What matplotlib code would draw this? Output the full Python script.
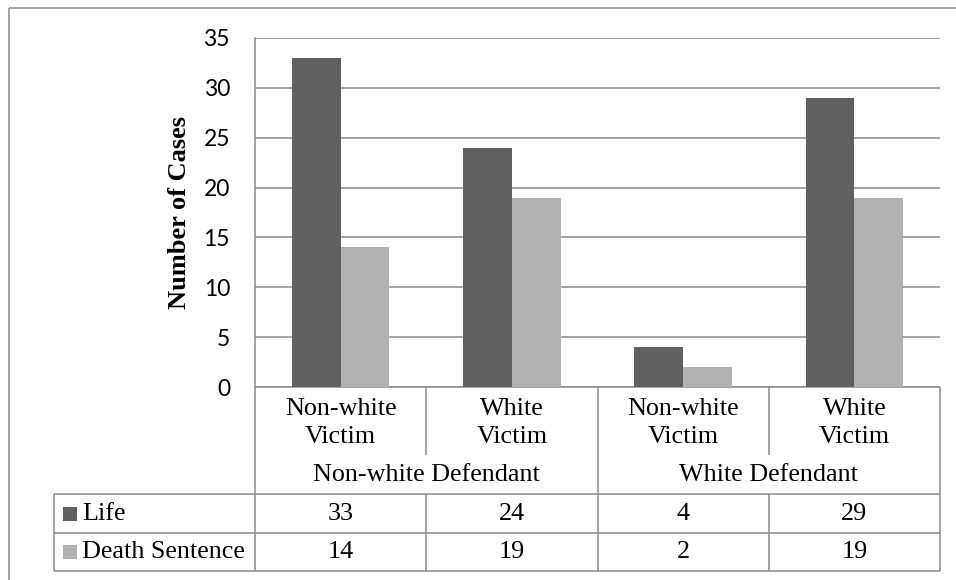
import matplotlib
matplotlib.use("Agg")
import matplotlib.pyplot as plt
import matplotlib.transforms as mtransforms
from matplotlib.patches import Rectangle
import numpy as np

# ---- data ----
victim_labels = ["Non-white\nVictim", "White\nVictim", "Non-white\nVictim", "White\nVictim"]
defendant_groups = ["Non-white Defendant", "White Defendant"]
series_names = ["Life", "Death Sentence"]
life = [33, 24, 4, 29]
death = [14, 19, 2, 19]
y_ticks = [0, 5, 10, 15, 20, 25, 30, 35]

# ---- style ----
W, H = 956, 580
DPI = 100
LINE = "#8a8a8a"
COLORS = ["#606060", "#b2b2b2"]
SERIF = "Liberation Serif"
SANS = "Lato"
LW = 1.1

fig = plt.figure(figsize=(W / DPI, H / DPI), dpi=DPI)
fig.patch.set_facecolor("white")

# overlay axes in pixel units (origin top-left) for frame and table
ov = fig.add_axes([0, 0, 1, 1])
ov.set_xlim(0, W)
ov.set_ylim(H, 0)
ov.axis("off")
ov.set_zorder(0)

# plot area in pixels
pl, pr, pt, pb = 255, 940, 38, 387
ax = fig.add_axes([pl / W, 1 - pb / H, (pr - pl) / W, (pb - pt) / H])
ax.set_zorder(1)
ax.patch.set_alpha(0)

n = len(life)
x = np.arange(n)
bw = 0.284
ax.bar(x - bw / 2, life, bw, color=COLORS[0], zorder=3, linewidth=0)
ax.bar(x + bw / 2, death, bw, color=COLORS[1], zorder=3, linewidth=0)
ax.set_xlim(-0.5, n - 0.5)
ax.set_ylim(0, 35)
ax.set_yticks(y_ticks)
ax.set_yticklabels([str(t) for t in y_ticks], fontfamily=SANS, fontsize=16.5)
ax.tick_params(axis="y", length=0, pad=18)
ax.set_xticks([])
ax.grid(axis="y", color=LINE, linewidth=LW, zorder=0)
for s in ["top", "right", "bottom"]:
    ax.spines[s].set_visible(False)
ax.spines["left"].set_color(LINE)
ax.spines["left"].set_linewidth(LW)
ax.set_ylabel("Number of Cases", fontfamily=SERIF, fontweight="bold", fontsize=19)
ax.yaxis.set_label_coords((191 - pl) / (pr - pl), 0.5)

# blended transform: x in category units, y in pixels
bt = mtransforms.blended_transform_factory(ax.transData, ov.transData)

def hline(x0, x1, y, tr=ov.transData):
    ov.plot([x0, x1], [y, y], color=LINE, lw=LW, transform=tr, clip_on=False, solid_capstyle="butt")

def vline(xv, y0, y1, tr=ov.transData):
    ov.plot([xv, xv], [y0, y1], color=LINE, lw=LW, transform=tr, clip_on=False, solid_capstyle="butt")

# outer chart frame
ov.add_patch(Rectangle((9, 8), W + 20, H + 20, fill=False, edgecolor=LINE, lw=LW, clip_on=False))

# table geometry (pixels)
y_axis = 387
y_life = 494
y_death = 533
y_bot = 571
x_leg = 54
x_left = -0.5
x_right = n - 0.5

# horizontal rules
hline(x_left, x_right, y_axis, bt)
for yy in (y_life, y_death, y_bot):
    hline(x_leg, pr, yy)
vline(x_leg, y_life, y_bot)
# vertical rules
vline(x_left, y_axis, y_bot, bt)
vline(x_right, y_axis, y_bot, bt)
for b in np.arange(n - 1) + 0.5:
    if b == 1.5:
        vline(b, y_axis, y_bot, bt)
    else:
        vline(b, y_axis, 455, bt)
        vline(b, y_life, y_bot, bt)

# category labels
tfs = 18.8
for i, lab in enumerate(victim_labels):
    l1, l2 = lab.split("\n")
    ov.text(i, 409, l1, transform=bt, ha="center", va="center", fontfamily=SERIF, fontsize=tfs)
    ov.text(i, 437, l2, transform=bt, ha="center", va="center", fontfamily=SERIF, fontsize=tfs)
for g, lab in enumerate(defendant_groups):
    ov.text(2 * g + 0.5, 475, lab, transform=bt, ha="center", va="center", fontfamily=SERIF, fontsize=tfs)

# data table rows
for r, (name, vals) in enumerate(zip(series_names, [life, death])):
    yc = (y_life + y_death) / 2 if r == 0 else (y_death + y_bot) / 2
    ov.add_patch(Rectangle((63, yc - 7), 14, 14, color=COLORS[r], lw=0))
    ov.text(82, yc, name, ha="left", va="center", fontfamily=SERIF, fontsize=tfs)
    for i, v in enumerate(vals):
        ov.text(i, yc, str(v), transform=bt, ha="center", va="center", fontfamily=SERIF, fontsize=tfs)

fig.savefig("out.png", dpi=DPI, facecolor="white")
